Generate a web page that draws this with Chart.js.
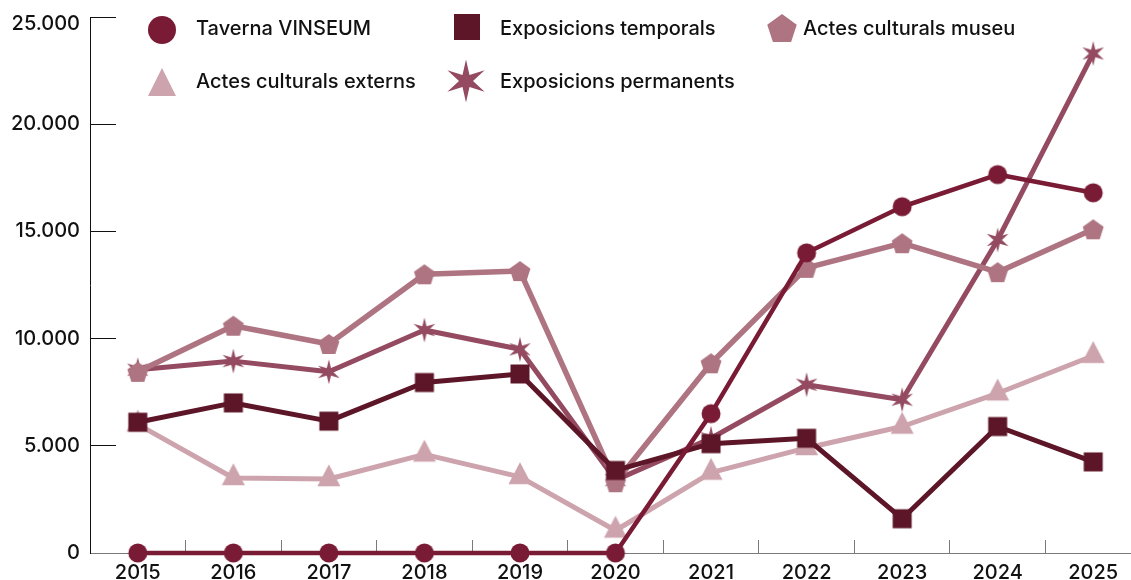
<!DOCTYPE html>
<html>
<head>
<meta charset="utf-8">
<script src="https://cdn.jsdelivr.net/npm/chart.js@4.4.1/dist/chart.umd.min.js"></script>
<style>
html,body{margin:0;padding:0;overflow:hidden;background:#fff;}
#wrap{width:1200px;height:580px;position:relative;}
canvas{display:block;}
</style>
</head>
<body>
<div id="wrap"><canvas id="c" width="1142" height="580"></canvas></div>
<script>
// ---- data ----
const years = ['2015','2016','2017','2018','2019','2020','2021','2022','2023','2024','2025'];
const tavernaVinseum = [0, 0, 0, 0, 0, 0, 6500, 14000, 16150, 17650, 16800];
const exposicionsTemporals = [6100, 7000, 6150, 7950, 8350, 3850, 5100, 5350, 1600, 5900, 4250];
const actesCulturalsMuseu = [8450, 10600, 9750, 13000, 13150, 3300, 8850, 13300, 14450, 13100, 15100];
const actesCulturalsExterns = [6000, 3500, 3450, 4600, 3550, 1050, 3750, 4900, 5900, 7450, 9200];
const exposicionsPermanents = [8550, 8950, 8450, 10400, 9500, 3400, 5350, 7850, 7150, 14600, 23300];
const yTicks = [0, 5000, 10000, 15000, 20000, 25000];
const yTickLabels = ['0', '5.000', '10.000', '15.000', '20.000', '25.000'];

// ---- marker images ----
function marker(shape, color, s) {
  const c = document.createElement('canvas');
  const S = s.box;
  c.width = S; c.height = S;
  const g = c.getContext('2d');
  g.fillStyle = color;
  const cx = S / 2, cy = S / 2;
  g.beginPath();
  if (shape === 'circle') {
    g.arc(cx, cy, s.r, 0, Math.PI * 2);
  } else if (shape === 'square') {
    g.rect(cx - s.r, cy - s.r, 2 * s.r, 2 * s.r);
  } else if (shape === 'triangle') {
    const top = cy - s.h * s.k;
    g.moveTo(cx, top);
    g.lineTo(cx + s.w / 2, top + s.h);
    g.lineTo(cx - s.w / 2, top + s.h);
    g.closePath();
  } else if (shape === 'pentagon') {
    for (let i = 0; i < 5; i++) {
      const a = -Math.PI / 2 + i * 2 * Math.PI / 5;
      const x = cx + Math.cos(a) * s.r, y = cy + s.dy + Math.sin(a) * s.r;
      i ? g.lineTo(x, y) : g.moveTo(x, y);
    }
    g.closePath();
  } else if (shape === 'star') {
    for (let i = 0; i < 12; i++) {
      const a = -Math.PI / 2 + i * Math.PI / 6;
      const rr = i % 2 === 0 ? s.r : s.ri;
      const x = cx + Math.cos(a) * rr, y = cy + Math.sin(a) * rr;
      i ? g.lineTo(x, y) : g.moveTo(x, y);
    }
    g.closePath();
  }
  g.fill();
  return c;
}

const C_TAV = '#7a1b35', C_TEMP = '#5d1628', C_MUS = '#ae7482', C_EXT = '#cda4ad', C_PERM = '#944a60';

const series = [
  {label: 'Taverna VINSEUM', data: tavernaVinseum, color: C_TAV,
   pt: marker('circle', C_TAV, {box: 22, r: 9.5}),
   lg: marker('circle', C_TAV, {box: 32, r: 14}), lw: 4.5},
  {label: 'Exposicions temporals', data: exposicionsTemporals, color: C_TEMP,
   pt: marker('square', C_TEMP, {box: 22, r: 9.5}),
   lg: marker('square', C_TEMP, {box: 30, r: 13}), lw: 5},
  {label: 'Actes culturals museu', data: actesCulturalsMuseu, color: C_MUS,
   pt: marker('pentagon', C_MUS, {box: 26, r: 11, dy: 1}),
   lg: marker('pentagon', C_MUS, {box: 36, r: 15.5, dy: 1.5}), lw: 5.5},
  {label: 'Exposicions permanents', data: exposicionsPermanents, color: C_PERM,
   pt: marker('star', C_PERM, {box: 28, r: 12.5, ri: 4.2}),
   lg: marker('star', C_PERM, {box: 48, r: 21.5, ri: 7}), lw: 5},
  {label: 'Actes culturals externs', data: actesCulturalsExterns, color: C_EXT,
   pt: marker('triangle', C_EXT, {box: 34, w: 23, h: 22, k: 2 / 3}),
   lg: marker('triangle', C_EXT, {box: 34, w: 28, h: 28, k: 0.5}), lw: 5}
];

const FONT_FAMILY = 'Inter, "Liberation Sans", sans-serif';
const FONT_SIZE = 20;
const FONT_WEIGHT = 500;

// legend layout (drawn at fixed spots, in original reading order)
const legendSlots = [
  {label: 'Taverna VINSEUM', mx: 162, my: 30, tx: 196, ty: 29},
  {label: 'Exposicions temporals', mx: 467, my: 27, tx: 500, ty: 29},
  {label: 'Actes culturals museu', mx: 782, my: 28, tx: 803, ty: 29},
  {label: 'Actes culturals externs', mx: 162, my: 82, tx: 196, ty: 82},
  {label: 'Exposicions permanents', mx: 466, my: 81, tx: 500, ty: 82}
];

const legendPlugin = {
  id: 'customLegend',
  afterDraw(chart) {
    const ctx = chart.ctx;
    ctx.save();
    ctx.font = FONT_WEIGHT + ' ' + FONT_SIZE + 'px ' + FONT_FAMILY;
    ctx.fillStyle = '#111';
    ctx.textBaseline = 'middle';
    ctx.textAlign = 'left';
    legendSlots.forEach(sl => {
      const s = series.find(d => d.label === sl.label);
      ctx.drawImage(s.lg, sl.mx - s.lg.width / 2, sl.my - s.lg.height / 2);
      ctx.fillText(sl.label, sl.tx, sl.ty);
    });
    ctx.restore();
  }
};

// nudge the top y label down so it sits below the axis top, as in the source
const topLabelPlugin = {
  id: 'topLabel',
  beforeDraw(chart) {
    const sc = chart.scales.y;
    const items = sc.getLabelItems();
    items.forEach(it => {
      if (it.label === yTickLabels[yTickLabels.length - 1] && !it._moved) {
        it.options.translation[1] += 7;
        it._moved = true;
      }
    });
  }
};

Chart.defaults.font.family = FONT_FAMILY;
Chart.defaults.font.size = FONT_SIZE;
Chart.defaults.font.weight = FONT_WEIGHT;
Chart.defaults.color = '#111';

const canvas = document.getElementById('c');
const TARGET_RIGHT = 1141; // plot area runs slightly past the visible window, as in the source

function build(w) {
  canvas.width = w;
  canvas.height = 580;
  canvas.style.width = w + 'px';
  canvas.style.height = '580px';
  return new Chart(canvas, {
    type: 'line',
    data: {
      labels: years,
      datasets: series.map(s => ({
        label: s.label,
        data: s.data,
        borderColor: s.color,
        backgroundColor: s.color,
        borderWidth: s.lw,
        borderJoinStyle: 'round',
        borderCapStyle: 'round',
        tension: 0,
        pointStyle: s.pt,
        pointRadius: 10,
        pointHoverRadius: 10,
        pointBorderWidth: 0,
        clip: false,
        fill: false
      }))
    },
    options: {
      responsive: false,
      maintainAspectRatio: false,
      devicePixelRatio: 1,
      animation: false,
      events: [],
      layout: {padding: {top: 17, left: 0, right: 0, bottom: 0}},
      plugins: {legend: {display: false}, tooltip: {enabled: false}},
      scales: {
        x: {
          type: 'category',
          offset: true,
          grid: {offset: true, drawOnChartArea: false, drawTicks: true, tickLength: -13, color: '#7a7a7a', lineWidth: 1},
          border: {display: true, color: '#7a7a7a', width: 1},
          ticks: {padding: 21, color: '#111', maxRotation: 0, autoSkip: false},
          afterFit(s) { s.height = 27; s.paddingLeft = 0; s.paddingRight = 0; }
        },
        y: {
          min: 0,
          max: 25000,
          afterBuildTicks(s) { s.ticks = yTicks.map(v => ({value: v})); },
          ticks: {
            padding: 36,
            color: '#111',
            callback(v) { const i = yTicks.indexOf(v); return i >= 0 ? yTickLabels[i] : ''; }
          },
          grid: {drawOnChartArea: false, drawTicks: true, tickLength: -26, color: '#111', lineWidth: 1},
          border: {display: true, color: '#111', width: 1},
          afterFit(s) { s.width = 90; s.paddingTop = 0; s.paddingBottom = 0; }
        }
      }
    },
    plugins: [legendPlugin, topLabelPlugin]
  });
}

let chart = build(1142);
const diff = Math.round(TARGET_RIGHT - chart.chartArea.right);
if (diff !== 0) {
  chart.destroy();
  chart = build(1142 + diff);
}
</script>
</body>
</html>
